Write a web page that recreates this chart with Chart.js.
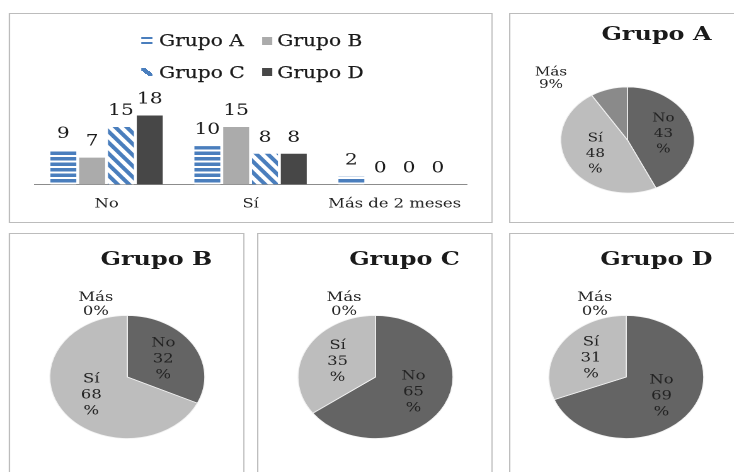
<!DOCTYPE html>
<html lang="es">
<head>
<meta charset="utf-8">
<title>Grupos A–D</title>
<script src="https://cdn.jsdelivr.net/npm/chart.js@4.4.1/dist/chart.umd.min.js"></script>
<style>
html, body { margin: 0; padding: 0; background: #fff; overflow: hidden; }
body { width: 734px; height: 472px; position: relative; }
/* the whole figure is laid out narrow and widened, which turns the pies into ellipses */
#stage { position: absolute; left: 0; top: 0; width: 583px; height: 472px;
         transform-origin: 0 0; transform: scaleX(1.26);
         font-family: 'DejaVu Serif', serif; color: #1a1a1a; }
.panel { position: absolute; box-sizing: border-box; border: 1.2px solid #bcbcbc;
         overflow: hidden; background: #fff; }
.panel canvas { position: absolute; }
.title { position: absolute; width: 200px; text-align: center; font-weight: bold;
         font-size: 19px; line-height: 19px; white-space: nowrap; }
.lg-text { position: absolute; font-size: 16px; line-height: 16px; white-space: nowrap;
           -webkit-text-stroke: 0.25px #1a1a1a; }
.lg-mark { position: absolute; width: 8.5px; height: 8px; }
</style>
</head>
<body>
<div id="stage"></div>
<script>
// ---- data ----
const categories = ['No', 'Sí', 'Más de 2 meses'];
const groupNames = ['Grupo A', 'Grupo B', 'Grupo C', 'Grupo D'];
const grupoA = [9, 10, 2];
const grupoB = [7, 15, 0];
const grupoC = [15, 8, 0];
const grupoD = [18, 8, 0];
const sliceLabels = ['No', 'Sí', 'Más'];
const pctA = [43, 48, 9];
const pctB = [32, 68, 0];
const pctC = [65, 35, 0];
const pctD = [69, 31, 0];

// ---- styles ----
const BLUE = '#4a7ebd';
const GRAY_B = '#ababab';
const DARK_D = '#474747';
const SLICE_COLORS = ['#646464', '#bdbdbd', '#8a8a8a'];
const SERIF = "'DejaVu Serif', serif";

Chart.defaults.font.family = SERIF;
Chart.defaults.color = '#222';

const stage = document.getElementById('stage');

function el(tag, cls, style, parent, text) {
  const e = document.createElement(tag);
  if (cls) e.className = cls;
  Object.assign(e.style, style);
  if (text !== undefined) e.textContent = text;
  parent.appendChild(e);
  return e;
}

function panel(left, top, w, h) {
  return el('div', 'panel', { left: left + 'px', top: top + 'px', width: w + 'px', height: h + 'px' }, stage);
}

// horizontal blue bands
function stripeH(ctx) {
  const t = document.createElement('canvas');
  t.width = 2; t.height = 11;
  const c = t.getContext('2d');
  c.fillStyle = '#fff'; c.fillRect(0, 0, 2, 11);
  c.fillStyle = BLUE; c.fillRect(0, 0, 2, 7);
  const p = ctx.createPattern(t, 'repeat');
  p.setTransform(new DOMMatrix([0.5, 0, 0, 0.5, 0, 0]));
  return p;
}

// diagonal blue bands running down to the right
function stripeD(ctx) {
  const w = 18, h = 22;
  const t = document.createElement('canvas');
  t.width = w; t.height = h;
  const c = t.getContext('2d');
  c.fillStyle = '#fff'; c.fillRect(0, 0, w, h);
  c.strokeStyle = BLUE; c.lineWidth = 7;
  for (let k = -1; k <= 1; k++) {
    c.beginPath();
    c.moveTo(k * w - w, -h);
    c.lineTo(k * w + 2 * w, 2 * h);
    c.stroke();
  }
  const p = ctx.createPattern(t, 'repeat');
  p.setTransform(new DOMMatrix([0.5, 0, 0, 0.5, 0, 0]));
  return p;
}

// value written above every bar
const barValues = {
  id: 'barValues',
  afterDatasetsDraw(chart) {
    const ctx = chart.ctx;
    ctx.save();
    ctx.font = '16px ' + SERIF;
    ctx.fillStyle = '#1a1a1a';
    ctx.textAlign = 'center';
    ctx.textBaseline = 'alphabetic';
    chart.data.datasets.forEach((ds, i) => {
      chart.getDatasetMeta(i).data.forEach((bar, j) => {
        ctx.fillText(String(ds.data[j]), bar.x, bar.y - 12);
      });
    });
    ctx.restore();
  }
};

// category + percentage inside large slices, outside small ones
const sliceText = {
  id: 'sliceText',
  afterDatasetsDraw(chart, args, opts) {
    const ctx = chart.ctx;
    const ds = chart.data.datasets[0];
    const meta = chart.getDatasetMeta(0);
    ctx.save();
    ctx.font = opts.size + 'px ' + SERIF;
    ctx.fillStyle = '#222';
    ctx.textAlign = 'center';
    ctx.textBaseline = 'middle';
    meta.data.forEach((arc, i) => {
      const v = ds.data[i];
      const mid = (arc.startAngle + arc.endAngle) / 2;
      const dx = Math.cos(mid), dy = Math.sin(mid);
      const r = arc.outerRadius;
      let lines, x, y, lh;
      if (v >= 15) {
        lines = [chart.data.labels[i], String(v), '%'];
        x = arc.x + dx * r * 0.55;
        y = arc.y + dy * r * 0.55;
        lh = opts.lh;
      } else {
        lines = [chart.data.labels[i], v + '%'];
        x = arc.x + 2 * dx * (r + 11) - 25;
        y = arc.y + dy * (r + 11);
        lh = opts.lhOut;
      }
      lines.forEach((s, k) => ctx.fillText(s, x, y + (k - (lines.length - 1) / 2) * lh));
    });
    ctx.restore();
  }
};

// ---- bar chart panel ----
const barPanel = panel(7.14, 13, 384.2, 210);
const barCanvas = el('canvas', null, { left: '0px', top: '0px' }, barPanel);
barCanvas.width = 384; barCanvas.height = 210;
const bctx = barCanvas.getContext('2d');

new Chart(barCanvas, {
  type: 'bar',
  data: {
    labels: categories,
    datasets: [
      { label: groupNames[0], data: grupoA, backgroundColor: stripeH(bctx) },
      { label: groupNames[1], data: grupoB, backgroundColor: GRAY_B },
      { label: groupNames[2], data: grupoC, backgroundColor: stripeD(bctx) },
      { label: groupNames[3], data: grupoD, backgroundColor: DARK_D }
    ]
  },
  options: {
    responsive: false,
    animation: false,
    devicePixelRatio: 2,
    events: [],
    layout: { padding: { left: 19.4, right: 21.7, top: 93.8, bottom: 0 } },
    plugins: { legend: { display: false }, tooltip: { enabled: false } },
    scales: {
      x: {
        grid: { display: false, drawTicks: false },
        border: { display: true, color: '#8c8c8c', width: 1 },
        ticks: { font: { size: 13 }, color: '#222', padding: 12, maxRotation: 0, autoSkip: false }
      },
      y: { display: false, min: 0, max: 20 }
    }
  },
  plugins: [barValues]
});

// legend in two rows of two
const legendMarks = [
  { height: '7px', background: `linear-gradient(to bottom, ${BLUE} 0 2.4px, #fff 2.4px 4.6px, ${BLUE} 4.6px 7px)` },
  { background: GRAY_B },
  { background: `linear-gradient(45deg, transparent 34%, ${BLUE} 34%, ${BLUE} 66%, transparent 66%)` },
  { background: DARK_D }
];
const markX = [104.1, 199.6], textX = [118.1, 212], rowMid = [26.8, 58.3];
groupNames.forEach((name, i) => {
  const col = i % 2, row = Math.floor(i / 2);
  const m = legendMarks[i];
  const mh = parseFloat(m.height || '8px');
  el('div', 'lg-mark', Object.assign({ left: markX[col] + 'px', top: (rowMid[row] - mh / 2) + 'px' }, m), barPanel);
  el('div', 'lg-text', { left: textX[col] + 'px', top: (rowMid[row] - 7.7) + 'px' }, barPanel, name);
});

// ---- pie panels ----
const pies = [
  { name: groupNames[0], pct: pctA, box: [404, 13, 200, 210], cx: 93.2, cy: 125.8, r: 53, titleTop: 9.6, font: { size: 12, lh: 15.5, lhOut: 12.5 } },
  { name: groupNames[1], pct: pctB, box: [7.14, 233, 187.3, 250], cx: 92.5, cy: 142.5, r: 61.5, titleTop: 14.6, font: { size: 13, lh: 16, lhOut: 14 } },
  { name: groupNames[2], pct: pctC, box: [204, 233, 187.3, 250], cx: 93, cy: 142.8, r: 61.5, titleTop: 14.6, font: { size: 13, lh: 16, lhOut: 14 } },
  { name: groupNames[3], pct: pctD, box: [404, 233, 200, 250], cx: 92.2, cy: 142.5, r: 61.5, titleTop: 14.6, font: { size: 13, lh: 16, lhOut: 14 } }
];

pies.forEach(p => {
  const pn = panel(...p.box);
  const cv = el('canvas', null, { left: (p.cx - 110) + 'px', top: (p.cy - 100) + 'px' }, pn);
  cv.width = 220; cv.height = 200;
  el('div', 'title', { left: '16px', top: p.titleTop + 'px' }, pn, p.name);
  new Chart(cv, {
    type: 'pie',
    data: {
      labels: sliceLabels,
      datasets: [{ data: p.pct, backgroundColor: SLICE_COLORS, borderColor: '#f2f2f2', borderWidth: 0.8, radius: p.r }]
    },
    options: {
      responsive: false,
      animation: false,
      devicePixelRatio: 2,
      events: [],
      layout: { padding: 0 },
      plugins: { legend: { display: false }, tooltip: { enabled: false }, sliceText: p.font }
    },
    plugins: [sliceText]
  });
});
</script>
</body>
</html>
